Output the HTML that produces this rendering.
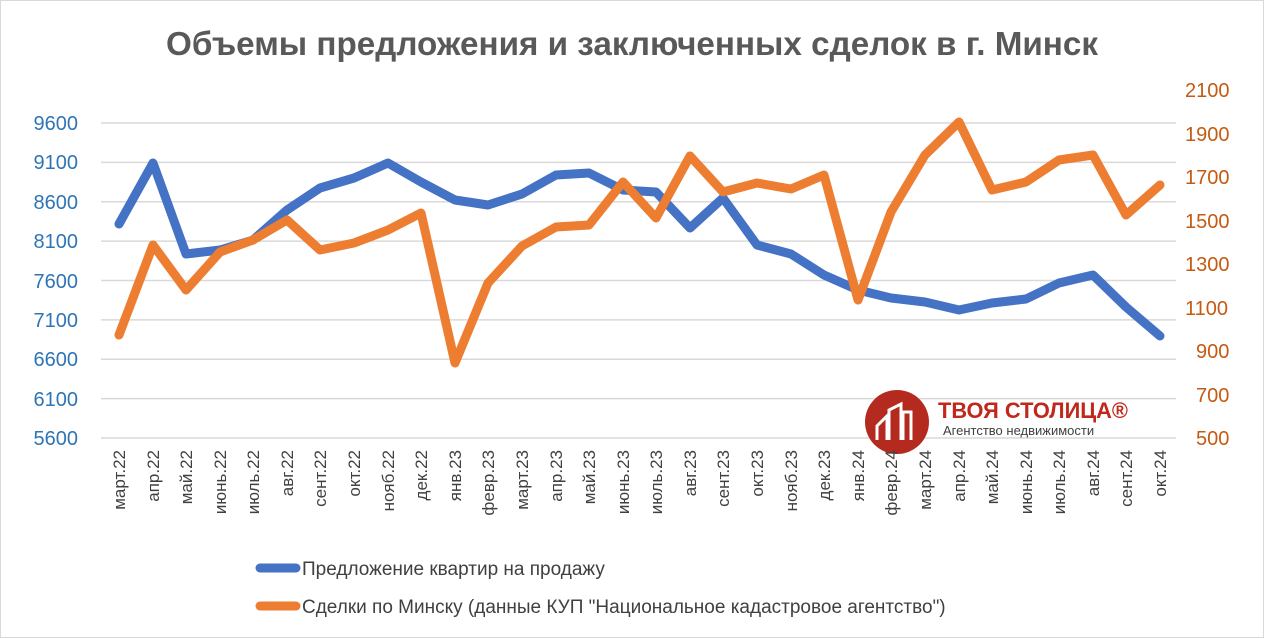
<!DOCTYPE html>
<html><head><meta charset="utf-8"><style>
body{margin:0;background:#fff}
svg{display:block;font-family:"Liberation Sans","DejaVu Sans",sans-serif}
</style></head><body>
<svg width="1264" height="638" viewBox="0 0 1264 638" xmlns="http://www.w3.org/2000/svg">
<rect x="0.5" y="0.5" width="1263" height="637" fill="#fff" stroke="#d9d9d9"/>
<text x="632" y="55" text-anchor="middle" font-size="33" font-weight="bold" fill="#595959" textLength="932" lengthAdjust="spacingAndGlyphs">Объемы предложения и заключенных сделок в г. Минск</text>
<g stroke="#d9d9d9" stroke-width="1.5">
<line x1="101" x2="1176" y1="123" y2="123"/><line x1="101" x2="1176" y1="162.4" y2="162.4"/>
<line x1="101" x2="1176" y1="201.8" y2="201.8"/><line x1="101" x2="1176" y1="241.1" y2="241.1"/>
<line x1="101" x2="1176" y1="280.5" y2="280.5"/><line x1="101" x2="1176" y1="319.9" y2="319.9"/>
<line x1="101" x2="1176" y1="359.3" y2="359.3"/><line x1="101" x2="1176" y1="398.6" y2="398.6"/>
<line x1="101" x2="1176" y1="438" y2="438"/>
</g>
<g font-size="20" fill="#2e75b6" text-anchor="end">
<text x="78" y="130">9600</text><text x="78" y="169">9100</text><text x="78" y="209">8600</text>
<text x="78" y="248">8100</text><text x="78" y="288">7600</text><text x="78" y="327">7100</text>
<text x="78" y="366">6600</text><text x="78" y="406">6100</text><text x="78" y="445">5600</text>
</g>
<g font-size="20" fill="#c55a11">
<text x="1185" y="97">2100</text><text x="1185" y="141">1900</text><text x="1185" y="184">1700</text>
<text x="1185" y="228">1500</text><text x="1185" y="271">1300</text><text x="1185" y="315">1100</text>
<text x="1196" y="358">900</text><text x="1196" y="402">700</text><text x="1196" y="445">500</text>
</g>
<g transform="translate(865,390)">
<circle cx="32" cy="32" r="32" fill="#b52a1e"/>
<path d="M12 50 L12 36 L22 26 L22 50 M24 50 L24 20 L36 14 L36 50 M38 50 L38 22 L46 22 L46 50" stroke="#fff" stroke-width="3" fill="none"/>
<text x="73" y="28" font-size="22" font-weight="bold" fill="#c0281c" textLength="190" lengthAdjust="spacingAndGlyphs">ТВОЯ СТОЛИЦА®</text>
<text x="78" y="45" font-size="13" fill="#404040">Агентство недвижимости</text>
</g>
<polyline fill="none" stroke="#4472c4" stroke-width="9" stroke-linejoin="round" stroke-linecap="round"
points="119,224 153,163 186,254 220,250 253,240 287,210 320,188 354,178 388,163 421,182 455,200 488,205 522,194 556,175 589,173 623,190 656,192 690,228 723,198 757,245 791,254 824,275 858,290 891,298 925,302 959,310 992,303 1026,299 1059,283 1093,275 1126,307 1160,336"/>
<polyline fill="none" stroke="#ed7d31" stroke-width="9" stroke-linejoin="round" stroke-linecap="round"
points="119,335 153,245 186,290 220,252 253,240 287,220 320,250 354,243 388,230 421,213 455,363 488,283 522,246 556,227 589,225 623,182 656,218 690,156 723,192 757,183 791,189 824,175 858,300 891,212 925,155 959,122 992,190 1026,182 1059,160 1093,155 1126,215 1160,185"/>
<g font-size="17" fill="#404040" text-anchor="end">
<text transform="translate(125,450) rotate(-90)">март.22</text>
<text transform="translate(159,450) rotate(-90)">апр.22</text>
<text transform="translate(192,450) rotate(-90)">май.22</text>
<text transform="translate(226,450) rotate(-90)">июнь.22</text>
<text transform="translate(259,450) rotate(-90)">июль.22</text>
<text transform="translate(293,450) rotate(-90)">авг.22</text>
<text transform="translate(326,450) rotate(-90)">сент.22</text>
<text transform="translate(360,450) rotate(-90)">окт.22</text>
<text transform="translate(394,450) rotate(-90)">нояб.22</text>
<text transform="translate(427,450) rotate(-90)">дек.22</text>
<text transform="translate(461,450) rotate(-90)">янв.23</text>
<text transform="translate(494,450) rotate(-90)">февр.23</text>
<text transform="translate(528,450) rotate(-90)">март.23</text>
<text transform="translate(562,450) rotate(-90)">апр.23</text>
<text transform="translate(595,450) rotate(-90)">май.23</text>
<text transform="translate(629,450) rotate(-90)">июнь.23</text>
<text transform="translate(662,450) rotate(-90)">июль.23</text>
<text transform="translate(696,450) rotate(-90)">авг.23</text>
<text transform="translate(729,450) rotate(-90)">сент.23</text>
<text transform="translate(763,450) rotate(-90)">окт.23</text>
<text transform="translate(797,450) rotate(-90)">нояб.23</text>
<text transform="translate(830,450) rotate(-90)">дек.23</text>
<text transform="translate(864,450) rotate(-90)">янв.24</text>
<text transform="translate(897,450) rotate(-90)">февр.24</text>
<text transform="translate(931,450) rotate(-90)">март.24</text>
<text transform="translate(965,450) rotate(-90)">апр.24</text>
<text transform="translate(998,450) rotate(-90)">май.24</text>
<text transform="translate(1032,450) rotate(-90)">июнь.24</text>
<text transform="translate(1065,450) rotate(-90)">июль.24</text>
<text transform="translate(1099,450) rotate(-90)">авг.24</text>
<text transform="translate(1132,450) rotate(-90)">сент.24</text>
<text transform="translate(1166,450) rotate(-90)">окт.24</text>
</g>
<line x1="260" x2="296" y1="568" y2="568" stroke="#4472c4" stroke-width="9" stroke-linecap="round"/>
<text x="302" y="575" font-size="19" fill="#404040">Предложение квартир на продажу</text>
<line x1="260" x2="296" y1="606" y2="606" stroke="#ed7d31" stroke-width="9" stroke-linecap="round"/>
<text x="302" y="613" font-size="19" fill="#404040">Сделки по Минску (данные КУП "Национальное кадастровое агентство")</text>
</svg>
</body></html>
